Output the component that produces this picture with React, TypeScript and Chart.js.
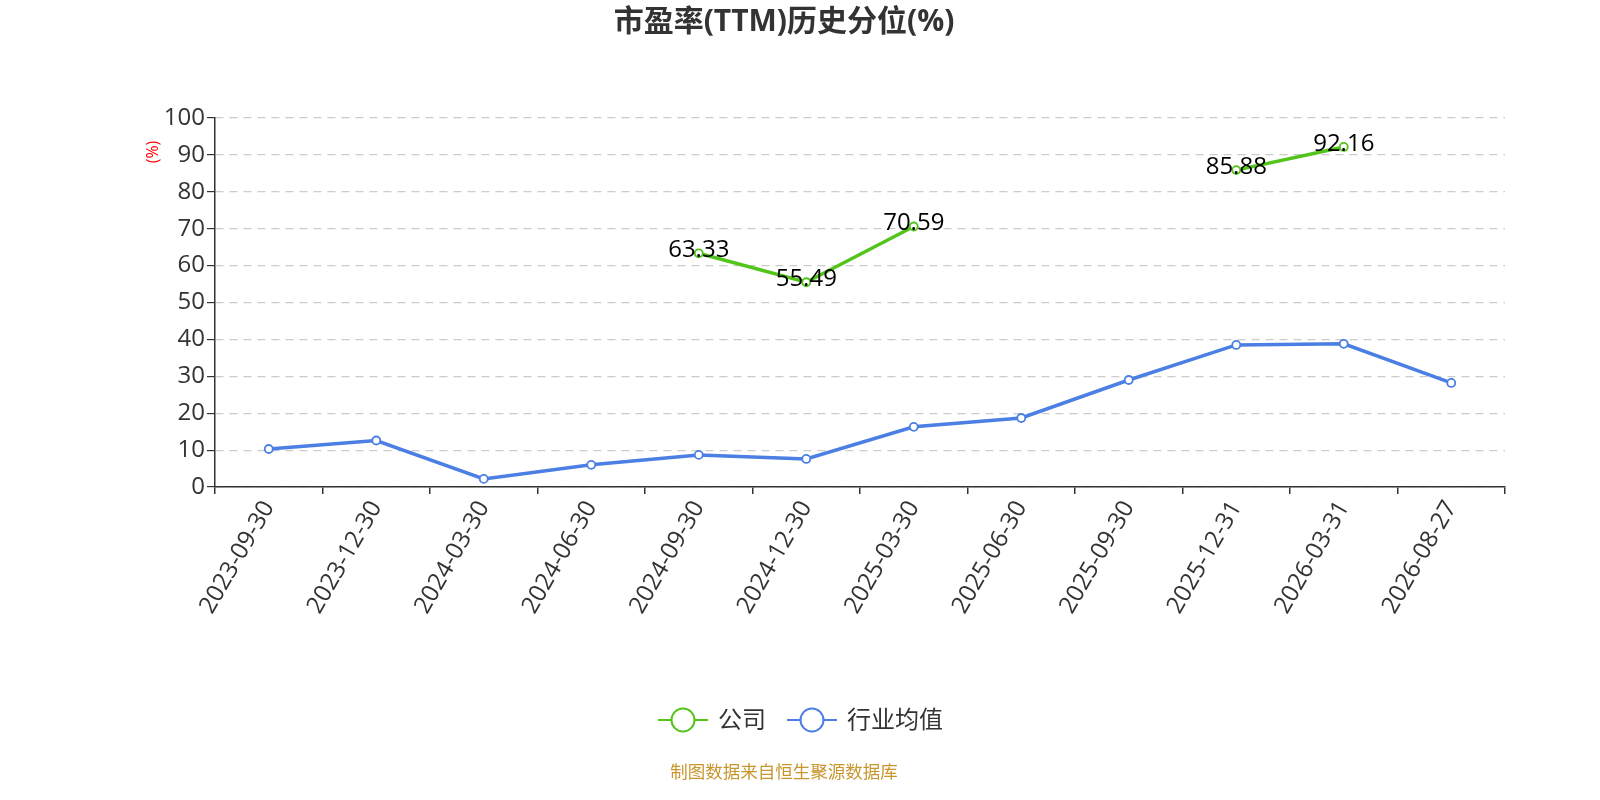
import { useEffect, useRef } from "react";
import { Chart, registerables } from "chart.js";

Chart.register(...registerables);

const dates = [
  "2023-09-30", "2023-12-30", "2024-03-30", "2024-06-30", "2024-09-30", "2024-12-30",
  "2025-03-30", "2025-06-30", "2025-09-30", "2025-12-31", "2026-03-31", "2026-08-27",
];
const company = [null, null, null, null, 63.33, 55.49, 70.59, null, null, 85.88, 92.16, null];
const industry = [10.3, 12.6, 2.2, 6.0, 8.7, 7.6, 16.3, 18.7, 29.0, 38.5, 38.8, 28.2];

const GREEN = "#52c41a";
const BLUE = "#4b7fe3";
const FONT = '"Open Sans", "Noto Sans CJK SC", sans-serif';

const decor = {
  id: "decor",
  afterDatasetsDraw(chart: any) {
    const { ctx } = chart;
    // value labels on company points
    const meta = chart.getDatasetMeta(0);
    ctx.save();
    ctx.font = `24px ${FONT}`;
    ctx.fillStyle = "#000";
    ctx.textAlign = "center";
    ctx.textBaseline = "middle";
    meta.data.forEach((pt: any, i: number) => {
      const v = company[i];
      if (v == null) return;
      ctx.fillText(v.toFixed(2), pt.x, pt.y - 3);
    });
    ctx.restore();
  },
  afterDraw(chart: any) {
    const { ctx } = chart;
    ctx.save();
    // title
    ctx.font = `bold 30px ${FONT}`;
    ctx.fillStyle = "#333";
    ctx.textAlign = "center";
    ctx.textBaseline = "middle";
    ctx.fillText("市盈率(TTM)历史分位(%)", 784, 22);
    // y axis unit
    ctx.save();
    ctx.translate(153, 152);
    ctx.rotate(-Math.PI / 2);
    ctx.font = `16px ${FONT}`;
    ctx.fillStyle = "#ff0000";
    ctx.fillText("(%)", 0, 0);
    ctx.restore();
    // legend
    const items = [
      { label: "公司", color: GREEN, x: 658 },
      { label: "行业均值", color: BLUE, x: 787 },
    ];
    ctx.font = `24px ${FONT}`;
    ctx.textAlign = "left";
    items.forEach((it) => {
      const y = 720;
      ctx.strokeStyle = it.color;
      ctx.lineWidth = 2;
      ctx.beginPath();
      ctx.moveTo(it.x, y);
      ctx.lineTo(it.x + 50, y);
      ctx.stroke();
      ctx.beginPath();
      ctx.arc(it.x + 25, y, 11.5, 0, Math.PI * 2);
      ctx.fillStyle = "#fff";
      ctx.fill();
      ctx.stroke();
      ctx.fillStyle = "#333";
      ctx.fillText(it.label, it.x + 60, y + 1);
    });
    // source note
    ctx.font = `17.5px ${FONT}`;
    ctx.fillStyle = "#c8962d";
    ctx.textAlign = "center";
    ctx.fillText("制图数据来自恒生聚源数据库", 784, 773);
    ctx.restore();
  },
};

export default function App() {
  const ref = useRef<HTMLCanvasElement>(null);
  useEffect(() => {
    document.body.style.margin = "0";
    const chart = new Chart(ref.current!, {
      type: "line",
      data: {
        labels: dates,
        datasets: [
          {
            label: "公司",
            data: company,
            borderColor: GREEN,
            backgroundColor: "#fff",
            borderWidth: 3.5,
            pointRadius: 4,
            pointBorderWidth: 1.8,
            pointBackgroundColor: "#fff",
            pointBorderColor: GREEN,
            spanGaps: false,
          },
          {
            label: "行业均值",
            data: industry,
            borderColor: BLUE,
            backgroundColor: "#fff",
            borderWidth: 3.5,
            pointRadius: 4,
            pointBorderWidth: 1.8,
            pointBackgroundColor: "#fff",
            pointBorderColor: BLUE,
          },
        ],
      },
      options: {
        animation: false,
        responsive: false,
        layout: { padding: { top: 118, right: 95, left: 0, bottom: 0 } },
        plugins: { legend: { display: false }, tooltip: { enabled: false }, title: { display: false } },
        scales: {
          x: {
            offset: true,
            grid: { display: true, drawOnChartArea: false, drawTicks: true, tickLength: 7, offset: true, color: "#333", lineWidth: 1.5 },
            border: { display: true, color: "#333", width: 1.5 },
            ticks: {
              color: "#333",
              font: { size: 24, family: FONT },
              minRotation: 60,
              maxRotation: 60,
              autoSkip: false,
              padding: 2,
            },
            afterFit: (s: any) => { s.height = 313; },
          },
          y: {
            min: 0,
            max: 100,
            ticks: { stepSize: 10, color: "#333", font: { size: 24, family: FONT }, padding: 2 },
            grid: { color: "#cccccc", lineWidth: 1.2, tickLength: 8, tickColor: "#333", tickBorderDash: [] },
            border: { display: true, color: "#333", width: 1.5, dash: [8, 6] },
            afterFit: (s: any) => { s.width = 215; },
          },
        },
      },
      plugins: [decor],
    });
    return () => chart.destroy();
  }, []);

  return <canvas ref={ref} width={1600} height={800} style={{ display: "block" }} />;
}
